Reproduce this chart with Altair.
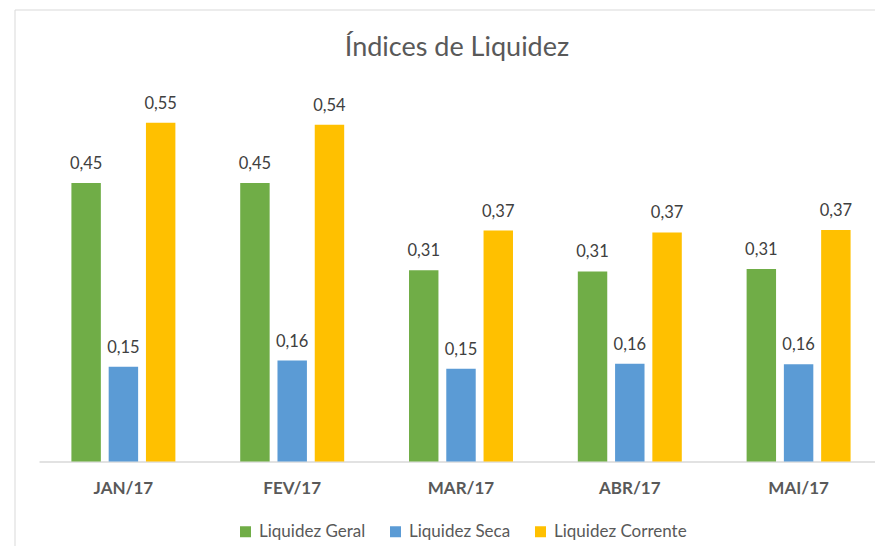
import altair as alt
import pandas as pd

months = ["JAN/17", "FEV/17", "MAR/17", "ABR/17", "MAI/17"]
series = ["Liquidez Geral", "Liquidez Seca", "Liquidez Corrente"]
geral = [0.450, 0.450, 0.309, 0.307, 0.311]
seca = [0.153, 0.163, 0.150, 0.158, 0.157]
corrente = [0.547, 0.544, 0.373, 0.370, 0.374]
colors = ["#70AD47", "#5B9BD5", "#FFC000"]

rows = []
for s, vals in zip(series, [geral, seca, corrente]):
    for m, v in zip(months, vals):
        rows.append({"mes": m, "serie": s, "valor": v,
                     "rotulo": f"{v:.2f}".replace(".", ",")})
df = pd.DataFrame(rows)

FONT = "Lato"

x = alt.X("mes:N", sort=months, title=None,
          scale=alt.Scale(paddingInner=0.384, paddingOuter=0.192, range=[0, 844]),
          axis=alt.Axis(labelFont=FONT, labelFontSize=17, labelFontWeight="bold",
                        labelColor="#595959", labelPadding=19, ticks=False,
                        domainColor="#D9D9D9", domainWidth=1.5, labelAngle=0))
xo = alt.XOffset("serie:N", sort=series,
                 scale=alt.Scale(paddingInner=0.21, paddingOuter=0))
y = alt.Y("valor:Q", axis=None, scale=alt.Scale(domain=[0, 0.6], nice=False))

base = alt.Chart(df)

bars = base.mark_bar().encode(
    x=x, xOffset=xo, y=y,
    color=alt.Color("serie:N", sort=series,
                    scale=alt.Scale(domain=series, range=colors),
                    legend=alt.Legend(title=None, orient="none", legendX=198, legendY=433,
                                      direction="horizontal", columns=3,
                                      symbolType="square", symbolSize=121,
                                      symbolStrokeWidth=0, labelFont=FONT,
                                      labelFontSize=17, labelColor="#595959",
                                      labelOffset=5, columnPadding=21, padding=0)),
)

labels = base.mark_text(baseline="alphabetic", dy=-14, font=FONT, fontSize=16.5,
                        color="#404040").encode(
    x=x, xOffset=xo, y=y, text="rotulo:N")

border_top = alt.Chart(pd.DataFrame({"k": [0]})).mark_rule(
    color="#D9D9D9", strokeWidth=1).encode(
    x=alt.value(-24), x2=alt.value(850), y=alt.value(-80))
border_left = alt.Chart(pd.DataFrame({"k": [0]})).mark_rule(
    color="#D9D9D9", strokeWidth=1).encode(
    x=alt.value(-24), y=alt.value(-80), y2=alt.value(470))

chart = alt.layer(border_top, border_left, bars, labels).properties(
    width=836, height=371.5,
    background="white",
    title=alt.TitleParams("Índices de Liquidez", font=FONT, fontSize=27,
                          fontWeight="normal", color="#595959",
                          anchor="middle", baseline="alphabetic", offset=-73),
    autosize=alt.AutoSizeParams(type="none"),
    padding={"left": 31, "top": 82, "right": 0, "bottom": 84},
).configure_view(strokeWidth=0, stroke="transparent")

chart.save("out.html", embed_options={"renderer": "svg", "actions": False})
